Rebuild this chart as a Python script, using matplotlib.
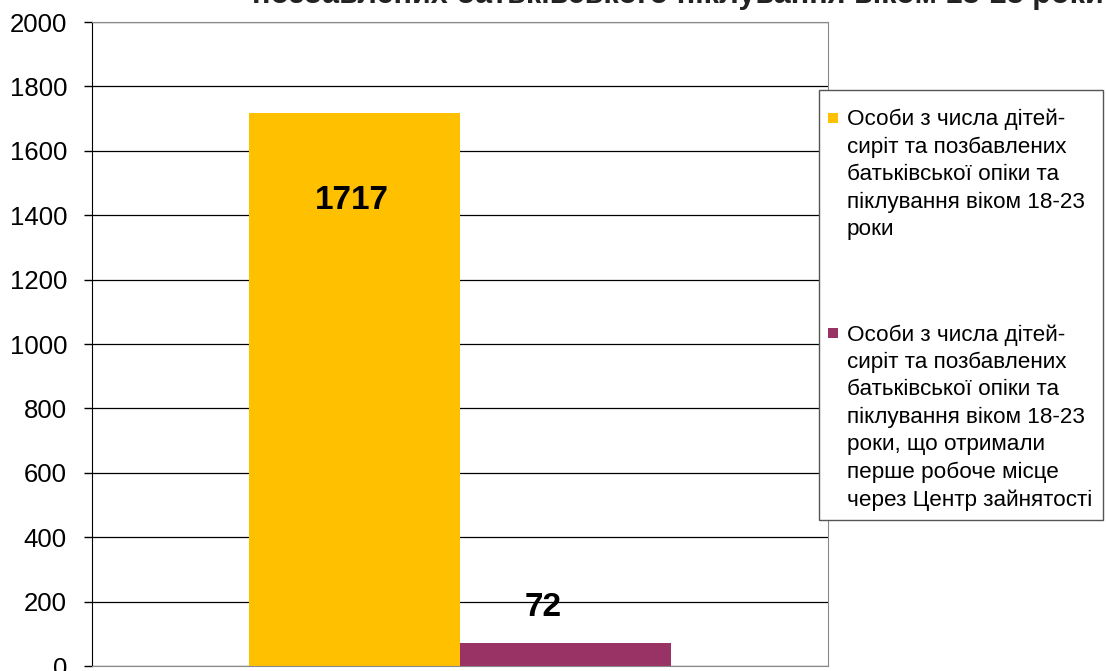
import matplotlib
matplotlib.use("Agg")
import matplotlib.pyplot as plt
from matplotlib.patches import Rectangle

plt.rcParams['font.family'] = ['Liberation Sans', 'DejaVu Sans']

# Data
series_labels = [
    "Особи з числа дітей-\nсиріт та позбавлених\nбатьківської опіки та\nпіклування віком 18-23\nроки",
    "Особи з числа дітей-\nсиріт та позбавлених\nбатьківської опіки та\nпіклування віком 18-23\nроки, що отримали\nперше робоче місце\nчерез Центр зайнятості",
]
values = [1717, 72]
colors = ["#FFC000", "#993366"]
y_ticks = list(range(0, 2001, 200))
title_text = "позбавлених батьківського піклування віком 18-23 роки"

W, H = 1106, 671
fig = plt.figure(figsize=(W / 100, H / 100), dpi=100)
ax = fig.add_axes([92 / W, 1 - 666 / H, (828 - 92) / W, (666 - 22) / H])

# two series side by side in one category
bar_w = 211 / 736
offsets = [-bar_w / 2, bar_w / 2]
for off, v, c in zip(offsets, values, colors):
    ax.bar(off, v, width=bar_w, color=c, zorder=2)

# data labels: first inside the bar, second above it (pixel offsets)
label_dx = [-3, -22]
label_dy = [-87, 35]
for off, v, dx, dy in zip(offsets, values, label_dx, label_dy):
    ax.annotate(str(v), xy=(off, v), xytext=(dx * 0.72, dy * 0.72), textcoords="offset points",
                ha="center", va="center", fontsize=24, fontweight="bold", zorder=3)

ax.set_xlim(-0.5, 0.5)
ax.set_ylim(0, 2000)
ax.set_yticks(y_ticks)
ax.set_xticks([])
ax.yaxis.grid(True, color="black", linewidth=0.9)
ax.set_axisbelow(True)
ax.tick_params(axis="y", direction="out", length=6, width=1, labelsize=18.5, pad=12)
for side in ["top", "right", "bottom"]:
    ax.spines[side].set_color("#8a8a8a")
ax.spines["left"].set_color("black")

# title, mostly cut off at the top of the image
fig.text(252 / W, 1 - 2.5 / H, title_text, ha="left", va="baseline",
         fontsize=22, fontweight="bold", color="#222222")

# legend drawn by hand so the markers sit on the first text line
fig.patches.append(Rectangle((819 / W, 1 - 520 / H), (1103 - 819) / W, (520 - 90) / H,
                             transform=fig.transFigure, facecolor="white",
                             edgecolor="#555555", linewidth=1, zorder=5))
entry_tops = [113, 328]
for top, lab, c in zip(entry_tops, series_labels, colors):
    fig.patches.append(Rectangle((828 / W, 1 - (top + 10) / H), 10 / W, 10 / H,
                                 transform=fig.transFigure, facecolor=c,
                                 edgecolor="none", zorder=6))
    fig.text(847 / W, 1 - (top - 4) / H, lab, ha="left", va="top", fontsize=16.2,
             linespacing=1.39, zorder=7)

fig.savefig("out.png", dpi=100)
